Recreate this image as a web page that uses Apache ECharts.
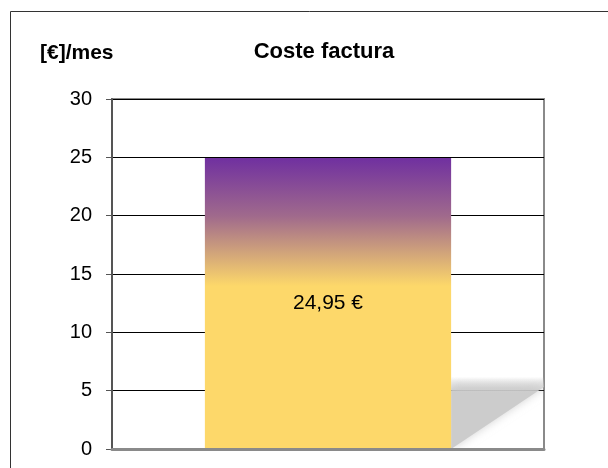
<!DOCTYPE html>
<html><head><meta charset="utf-8">
<script src="https://cdn.jsdelivr.net/npm/echarts@6/dist/echarts.min.js"></script>
<style>html,body{margin:0;padding:0;background:#fff}#c{width:608px;height:468px}</style>
</head><body><div id="c"></div>
<script>
const categories = ['Coste factura'];
const values = [24.95];
const labels = ['24,95 €'];
const yTicks = {min: 0, max: 30, interval: 5};
const shadowTopValue = [6.2];

const chart = echarts.init(document.getElementById('c'), null, {renderer: 'canvas'});
const F = 'Liberation Sans, Arial, sans-serif';
chart.setOption({
  animation: false,
  graphic: [{type: 'rect', shape: {x: 10.5, y: 11.5, width: 700, height: 600}, style: {fill: 'none', stroke: '#333', lineWidth: 1}, z: 0}],
  title: [
    {text: 'Coste factura', left: 319, top: 36, textAlign: 'center', textStyle: {fontFamily: F, fontSize: 22, fontWeight: 'bold', color: '#000'}},
    {text: '[€]/mes', left: 35, top: 38, textStyle: {fontFamily: F, fontSize: 21, fontWeight: 'bold', color: '#000'}}
  ],
  grid: {left: 112, top: 99, right: 64, bottom: 19, show: true, borderColor: '#8a8a8a', borderWidth: 2, backgroundColor: 'transparent'},
  xAxis: {type: 'category', data: categories, axisLabel: {show: false}, axisTick: {show: false},
    axisLine: {lineStyle: {color: '#8a8a8a', width: 3}}, z: 5},
  yAxis: {type: 'value', min: yTicks.min, max: yTicks.max, interval: yTicks.interval,
    axisLine: {show: true, lineStyle: {color: '#555', width: 2}},
    axisTick: {show: true, length: 6, lineStyle: {color: '#555', width: 1}},
    axisLabel: {fontFamily: F, fontSize: 20, color: '#000', margin: 20},
    splitLine: {lineStyle: {color: '#000', width: 1}}},
  series: [
    {type: 'custom', clip: true, z: 1, silent: true,
      renderItem: function (params, api) {
        const base = api.coord([0, 0]);
        const top = api.coord([0, api.value(1)]);
        const w = api.size([1, 0])[0] * 0.57;
        const xr = base[0] + w / 2;
        const h = base[1] - top[1];
        return {type: 'polygon', shape: {points: [[xr, top[1]], [xr + h * 1.5, top[1]], [xr, base[1]]]},
          style: {fill: {type: 'linear', x: 0, y: 0, x2: 0, y2: 1, colorStops: [
            {offset: 0, color: 'rgba(200,200,200,0)'}, {offset: 0.22, color: 'rgba(204,204,204,1)'}, {offset: 1, color: 'rgba(204,204,204,1)'}]},
            shadowBlur: 10, shadowColor: 'rgba(180,180,180,0.6)'}};
      },
      data: shadowTopValue.map((v, i) => [i, v])},
    {type: 'bar', data: values, barWidth: '57%', z: 3,
      itemStyle: {color: {type: 'linear', x: 0, y: 0, x2: 0, y2: 1, colorStops: [
        {offset: 0, color: '#7030a0'}, {offset: 0.2, color: '#a06a8c'}, {offset: 0.44, color: '#fdd86a'}, {offset: 1, color: '#fdd86a'}]}},
      label: {show: true, position: 'inside', formatter: p => labels[p.dataIndex], fontFamily: F, fontSize: 21, color: '#000'}}
  ]
});
</script></body></html>
